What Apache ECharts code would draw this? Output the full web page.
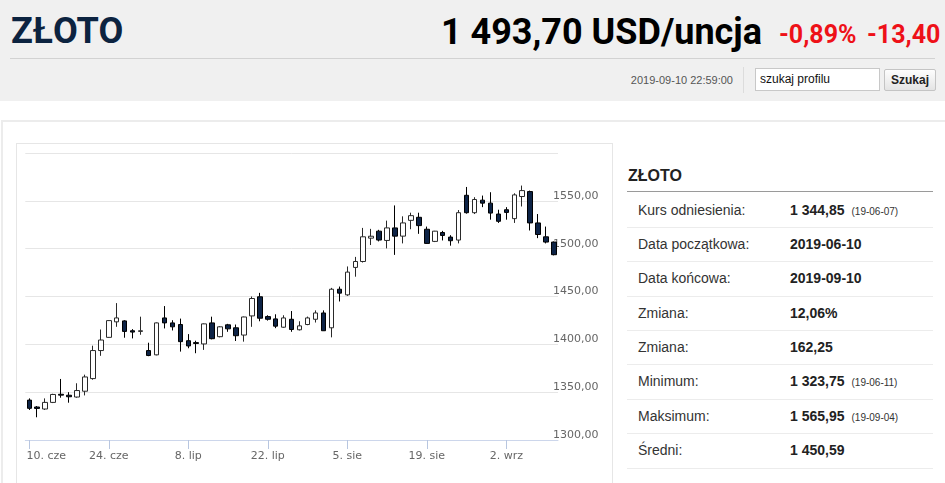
<!DOCTYPE html>
<html><head><meta charset="utf-8">
<script src="https://cdn.jsdelivr.net/npm/echarts@6/dist/echarts.min.js"></script>
<style>
html,body{margin:0;padding:0;width:945px;height:483px;overflow:hidden;background:#fff;font-family:"Liberation Sans",Arial,sans-serif;}
.abs{position:absolute;white-space:nowrap;}
#hdr{position:absolute;left:0;top:0;width:945px;height:101px;background:#f0f0f0;}
#title{left:11px;top:13px;font:700 36px/36px Roboto,sans-serif;color:#0c2340;}
#price{right:183px;top:14px;font:700 36px/36px Roboto,sans-serif;color:#000;}
.red{top:22px;font:700 25px/25px Roboto,sans-serif;color:#ee1118;}
#hline{left:10px;top:58px;width:925px;height:1px;background:#d2d2d2;}
#ts{right:212px;top:73px;font:11px/14px "Liberation Sans",Arial,sans-serif;color:#555;}
#vsep{left:743px;top:67px;width:1px;height:26px;background:#dcdcdc;}
#inp{left:755px;top:68px;width:125px;height:23px;box-sizing:border-box;border:1px solid #c8c8c8;background:#fff;font:12px/21px "Liberation Sans",Arial,sans-serif;color:#111;padding-left:4px;}
#btn{left:884px;top:69px;width:52px;height:22px;box-sizing:border-box;border:1px solid #c4c4c4;border-radius:2px;background:linear-gradient(#fdfdfd,#e4e4e4);font:700 12px/20px "Liberation Sans",Arial,sans-serif;color:#222;text-align:center;}
#outer{left:1px;top:120px;width:942px;height:370px;border-top:2px solid #ececec;border-left:2px solid #ececec;}
#panel{left:16px;top:143px;width:595px;height:360px;border:1px solid #e6e6e6;background:#fff;}
#ttitle{left:628px;top:167px;font:700 16px/18px "Liberation Sans",Arial,sans-serif;color:#222;}
#tline{left:627px;top:191px;width:306px;height:1px;background:#9a9a9a;}
#rows{position:absolute;left:627px;top:193.5px;width:306px;}
.row{position:relative;height:33.4px;border-bottom:1px solid #ececec;font:14px/33.4px "Liberation Sans",Arial,sans-serif;}
.lab{position:absolute;left:11px;color:#333;}
.val{position:absolute;left:163px;color:#222;font-weight:700;}
.note{font-weight:400;font-size:10px;color:#333;margin-left:7px;}
#chart{position:absolute;left:0;top:0;width:945px;height:483px;pointer-events:none;z-index:5;}
</style></head>
<body>
<div id="hdr"></div>
<div class="abs" id="title">ZŁOTO</div>
<div class="abs" id="price">1 493,70 USD/uncja</div>
<div class="abs red" style="left:779px">-0,89%</div>
<div class="abs red" style="left:867px">-13,40</div>
<div class="abs" id="hline"></div>
<div class="abs" id="ts">2019-09-10 22:59:00</div>
<div class="abs" id="vsep"></div>
<div class="abs" id="inp">szukaj profilu</div>
<div class="abs" id="btn">Szukaj</div>
<div class="abs" id="outer"></div>
<div class="abs" id="panel"></div>
<div class="abs" id="ttitle">ZŁOTO</div>
<div class="abs" id="tline"></div>
<div id="rows">
  <div class="row"><span class="lab">Kurs odniesienia:</span><span class="val">1 344,85<span class="note">(19-06-07)</span></span></div>
  <div class="row"><span class="lab">Data początkowa:</span><span class="val">2019-06-10</span></div>
  <div class="row"><span class="lab">Data końcowa:</span><span class="val">2019-09-10</span></div>
  <div class="row"><span class="lab">Zmiana:</span><span class="val">12,06%</span></div>
  <div class="row"><span class="lab">Zmiana:</span><span class="val">162,25</span></div>
  <div class="row"><span class="lab">Minimum:</span><span class="val">1 323,75<span class="note">(19-06-11)</span></span></div>
  <div class="row"><span class="lab">Maksimum:</span><span class="val">1 565,95<span class="note">(19-09-04)</span></span></div>
  <div class="row"><span class="lab">Średni:</span><span class="val">1 450,59</span></div>
</div>
<div id="chart"></div>
<script>
const dates = [
 '2019-06-10','2019-06-11','2019-06-12','2019-06-13','2019-06-14','2019-06-17','2019-06-18','2019-06-19','2019-06-20','2019-06-21',
 '2019-06-24','2019-06-25','2019-06-26','2019-06-27','2019-06-28','2019-07-01','2019-07-02','2019-07-03','2019-07-04','2019-07-05',
 '2019-07-08','2019-07-09','2019-07-10','2019-07-11','2019-07-12','2019-07-15','2019-07-16','2019-07-17','2019-07-18','2019-07-19',
 '2019-07-22','2019-07-23','2019-07-24','2019-07-25','2019-07-26','2019-07-29','2019-07-30','2019-07-31','2019-08-01','2019-08-02',
 '2019-08-05','2019-08-06','2019-08-07','2019-08-08','2019-08-09','2019-08-12','2019-08-13','2019-08-14','2019-08-15','2019-08-16',
 '2019-08-19','2019-08-20','2019-08-21','2019-08-22','2019-08-23','2019-08-26','2019-08-27','2019-08-28','2019-08-29','2019-08-30',
 '2019-09-02','2019-09-03','2019-09-04','2019-09-05','2019-09-06','2019-09-09','2019-09-10'
];
const opens = [
 1341.7,1334.5,1332.4,1339.3,1347.8,1346.8,1344.9,1351.0,1364.2,1393.5,
 1407.3,1423.5,1424.5,1414.2,1413.5,1393.5,1389.0,1427.6,1422.4,1420.7,
 1403.8,1401.8,1400.4,1422.4,1408.0,1420.4,1417.3,1409.7,1429.7,1449.7,
 1429.0,1426.6,1417.9,1426.2,1415.2,1420.7,1426.2,1432.8,1417.3,1457.6,
 1451.7,1480.4,1486.6,1511.0,1518.3,1508.6,1521.7,1513.1,1529.6,1532.8,
 1520.3,1507.6,1516.9,1512.1,1509.0,1555.8,1537.6,1550.7,1547.6,1536.2,
 1540.7,1531.4,1554.5,1559.7,1526.9,1512.4,1506.9
];
const closes = [
 1333.1,1333.0,1339.3,1347.6,1346.9,1345.2,1351.7,1365.9,1393.5,1404.5,
 1424.8,1427.6,1413.5,1412.8,1414.2,1388.3,1422.4,1422.4,1418.3,1402.8,
 1398.3,1400.9,1421.4,1405.9,1418.3,1416.2,1409.0,1428.6,1447.9,1427.3,
 1426.2,1419.0,1427.6,1415.5,1419.3,1427.6,1432.8,1414.2,1457.6,1453.5,
 1475.5,1486.6,1512.4,1513.0,1509.0,1521.7,1513.1,1526.9,1534.5,1524.1,
 1505.5,1518.3,1513.8,1508.3,1537.6,1537.6,1551.4,1547.6,1537.2,1528.6,
 1537.9,1556.2,1560.7,1526.9,1514.8,1506.9,1493.7
];
const lows = [
 1331.4,1323.75,1331.4,1338.6,1344.2,1339.0,1344.2,1346.6,1363.0,1388.0,
 1406.9,1418.3,1406.9,1406.2,1410.0,1387.6,1388.5,1416.6,1414.5,1392.4,
 1395.9,1390.7,1394.2,1405.2,1407.3,1413.1,1403.5,1402.8,1418.3,1424.1,
 1424.8,1416.9,1417.3,1413.1,1414.5,1420.0,1422.8,1414.0,1407.3,1444.8,
 1450.7,1470.7,1485.5,1503.8,1507.6,1500.3,1493.5,1505.5,1520.3,1515.5,
 1505.2,1506.9,1508.6,1503.1,1505.5,1536.6,1536.2,1543.4,1530.3,1526.9,
 1530.3,1526.9,1544.1,1519.0,1511.0,1505.5,1493.0
];
const highs = [
 1343.5,1335.5,1343.5,1348.3,1363.8,1350.0,1359.3,1368.3,1398.6,1415.5,
 1425.2,1443.1,1425.2,1415.9,1428.9,1401.7,1422.9,1440.0,1425.2,1426.9,
 1410.7,1403.8,1421.8,1428.9,1419.0,1421.4,1420.7,1429.0,1450.0,1453.8,
 1430.4,1431.4,1430.4,1434.8,1424.1,1429.0,1435.5,1435.5,1459.0,1460.4,
 1481.4,1491.4,1521.7,1520.7,1519.7,1529.3,1545.2,1533.8,1537.6,1537.6,
 1523.1,1518.6,1518.6,1514.1,1540.4,1564.5,1553.8,1555.5,1559.0,1540.7,
 1543.4,1557.9,1565.95,1560.7,1536.2,1523.1,1507.5
];
const monthNames = ['sty','lut','mar','kwi','maj','cze','lip','sie','wrz','paź','lis','gru'];
const yTicks = {min:1300, max:1600, step:50};

const candles = dates.map((d,i)=>[opens[i], closes[i], lows[i], highs[i]]);
const fmtDate = d => { const p = d.split('-'); return (+p[2]) + '. ' + monthNames[+p[1]-1]; };
const lblStyle = {color:'#666', fontFamily:'DejaVu Sans', fontSize:11};

const chart = echarts.init(document.getElementById('chart'), null, {renderer:'canvas'});
chart.setOption({
  animation:false,
  grid:{left:25.3, right:387, top:153, bottom:43, containLabel:false},
  xAxis:{
    type:'category', data:dates, boundaryGap:true,
    axisLine:{lineStyle:{color:'#ccd6eb', width:1}},
    axisTick:{show:true, alignWithLabel:true, interval:9, length:9, lineStyle:{color:'#b8c6e0', width:1}},
    axisLabel:Object.assign({interval:9, margin:11,
      formatter:(v,i)=> i===0 ? '{f|'+fmtDate(v)+'}' : fmtDate(v),
      rich:{f:Object.assign({padding:[0,0,0,34]}, lblStyle)}}, lblStyle),
    splitLine:{show:false}
  },
  yAxis:{
    type:'value', position:'right', min:yTicks.min, max:yTicks.max, interval:yTicks.step,
    axisLine:{show:false}, axisTick:{show:false},
    splitLine:{lineStyle:{color:'#e6e6e6', width:1}},
    axisLabel:Object.assign({margin:-5, verticalAlign:'bottom', lineHeight:10, showMaxLabel:false,
      formatter:v=> v.toFixed(2).replace('.',',')}, lblStyle)
  },
  series:[{
    type:'candlestick', data:candles, barWidth:5,
    itemStyle:{color:'#ffffff', color0:'#0d2346', borderColor:'#2a2a2a', borderColor0:'#000000', borderWidth:1}
  }]
});
</script>
</body></html>
